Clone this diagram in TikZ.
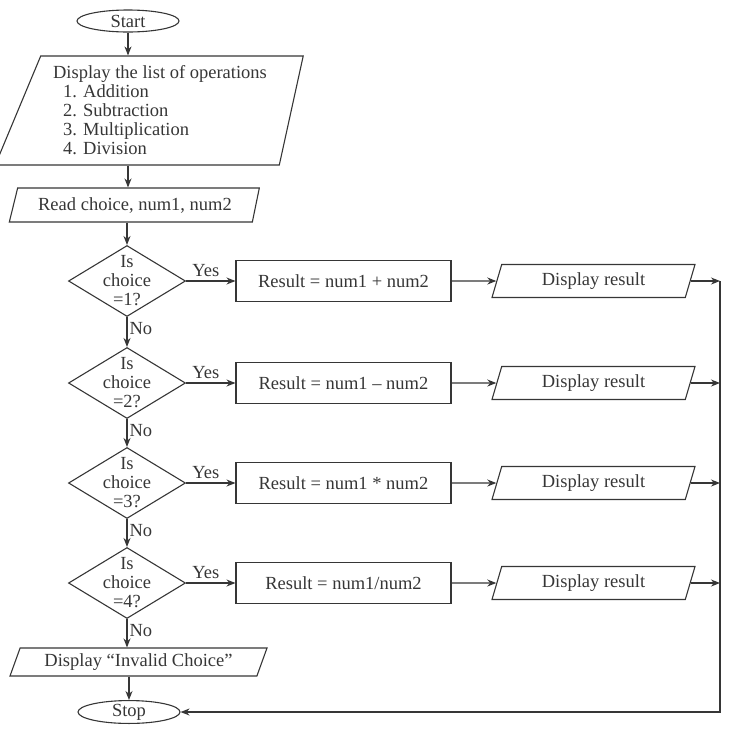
\documentclass[tikz,border=0pt]{standalone}
\usepackage{fontspec}
\setmainfont{Liberation Serif}
\usetikzlibrary{shapes.geometric,arrows.meta}
\definecolor{inkgray}{HTML}{363636}
\tikzset{
	terminal/.style={draw, ellipse, minimum width=102pt, minimum height=22pt, inner sep=0pt},
	iobox/.style={draw, trapezium, trapezium left angle=60, trapezium right angle=120, trapezium stretches body, inner sep=0pt, minimum height=33pt},
	process/.style={draw, rectangle, minimum width=215pt, minimum height=41pt, inner sep=0pt},
	decision/.style={draw, diamond, minimum width=117pt, minimum height=71pt, inner sep=0pt},
	flow/.style={->, >={Stealth[length=9pt,width=7pt]}},
}
\begin{document}
\begin{tikzpicture}[x=1pt, y=-1pt, line width=1.1pt, color=inkgray, font=\fontsize{18.5}{19}\selectfont]
\useasboundingbox (0,0) rectangle (736,734);
\node[terminal](start) at (128,21) {Start};
\node[iobox, trapezium left angle=63, trapezium right angle=105, minimum width=308pt, minimum height=109pt, align=left](ops) at (160,110.5) {Display the list of operations\\\hspace*{10pt}1. Addition\\\hspace*{10pt}2. Subtraction\\\hspace*{10pt}3. Multiplication\\\hspace*{10pt}4. Division};
\node[iobox, trapezium left angle=62, trapezium right angle=114, minimum width=250pt, minimum height=34pt](read) at (135,205) {Read choice, num1, num2};
\foreach \i/\y/\res in {1/281/{num1 + num2}, 2/383/{num1 -- num2}, 3/483/{num1 * num2}, 4/583/{num1/num2}}{
	\node[decision, label={[align=center]center:Is\\choice\\=\i?}](d\i) at (127,\y) {};
	\node[process](p\i) at (343.5,\y) {Result = \res};
	\node[iobox, minimum width=203pt](r\i) at (593.5,\y) {Display result};
	\draw[flow](d\i.east) -- node[above, pos=0.4]{Yes} (p\i.west);
	\draw[flow](p\i.east) -- (r\i.west);
}
\node[iobox, trapezium left angle=59, trapezium right angle=121, minimum width=257pt, minimum height=28pt](invalid) at (138.5,662) {Display “Invalid Choice”};
\node[terminal](stop) at (129,712) {Stop};
\coordinate(rail) at (720,281);
% main column
\draw[flow](start.south) -- (start.south |- ops.north);
\draw[flow](start.south |- ops.south) -- (start.south |- read.north);
\draw[flow](d1 |- read.south) -- (d1.north);
\foreach \i/\j in {1/2, 2/3, 3/4}{
	\draw[flow](d\i.south) -- node[right, pos=0.4, inner sep=2pt]{No} (d\j.north);
}
\draw[flow](d4.south) -- node[right, pos=0.4, inner sep=2pt]{No} (d4.south |- invalid.north);
\draw[flow](stop |- invalid.south) -- (stop.north);
% results back to stop
\foreach \i in {1,...,4}{
	\draw[flow](r\i.east) -- (r\i.east -| rail);
}
\draw[flow](rail) -- (rail |- stop) -- (stop.east);
\end{tikzpicture}
\end{document}
